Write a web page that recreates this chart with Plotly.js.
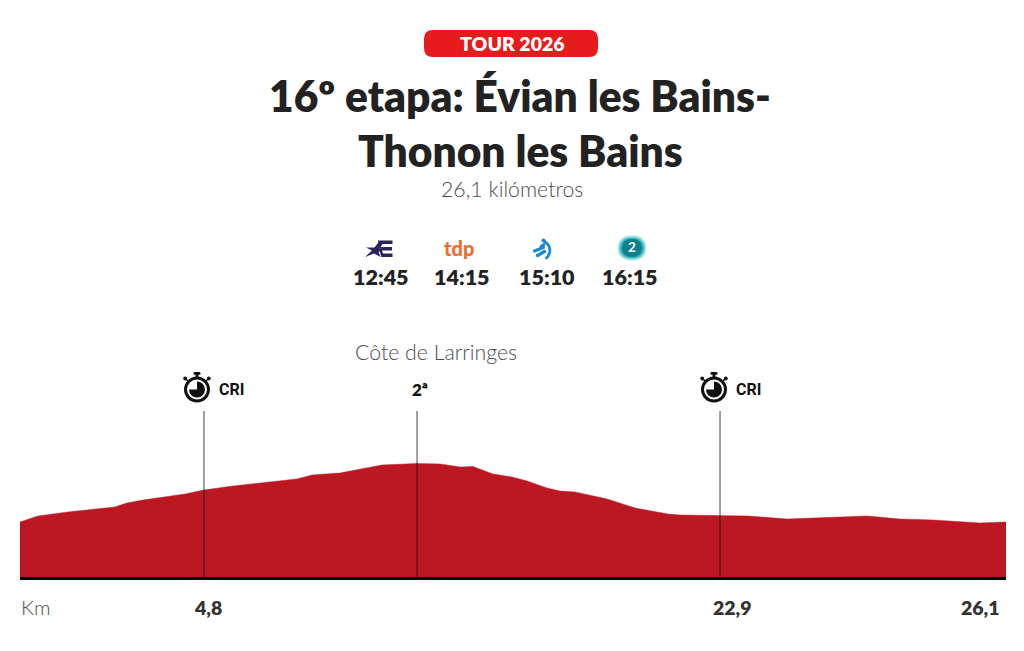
<!DOCTYPE html>
<html>
<head>
<meta charset="utf-8">
<script src="https://cdn.plot.ly/plotly-3.0.1.min.js"></script>
<style>html,body{margin:0;padding:0;background:#fff}</style>
</head>
<body>
<div id="grafico" style="width:1024px;height:651px"></div>
<script>
// perfil de la etapa (altura sin unidad, el original no trae eje)
var km = [0, 0.48, 1.27, 2.51, 2.83, 3.26, 4.37, 4.87, 5.64, 7.33, 7.73, 8.47, 9.58, 10.51, 11.12, 11.65, 11.99, 12.52, 13.02, 13.42, 13.95, 14.29, 14.69, 15.54, 16.28, 17.15, 17.47, 18.50, 19.27, 20.30, 21.18, 22.42, 23.29, 24.17, 25.41, 26.1];
var altura = [55, 61, 65, 70, 74, 77, 83, 87, 91, 98, 102, 104, 112, 113.5, 113, 110, 110.5, 103, 100, 96, 89, 86, 85, 78, 69, 63, 62, 61, 61, 58, 59, 61, 58, 57, 54, 55];

// puntos marcados
var marcasKm = [4.87, 10.51, 18.53];
var marcasTope = 166;

var etiquetasKm = [4.97, 18.87, 25.43];
var etiquetasTexto = ['4,8', '22,9', '26,1'];

var cadenas = ['tdp', '2'];
var horarios = ['12:45', '14:15', '15:10', '16:15'];
var horariosX = [381, 461.5, 546.5, 630];

var W = 1024, H = 651;
var L = 20, R = 1006, T = 337, B = 577;
var fuente = 'Lato';
var oscuro = '#222222';
var gris = '#4d4d4d';

// paper va referido al area del grafico, no a la pagina
function px(x) { return (x - L) / (R - L); }
function py(y) { return (B - y) / (B - T); }

function texto(t, x, y, size, color, weight, familia) {
  return {
    text: t, xref: 'paper', yref: 'paper', x: px(x), y: py(y),
    xanchor: 'center', yanchor: 'middle', showarrow: false,
    font: {family: familia || fuente, size: size, color: color, weight: weight || 400}
  };
}

function svgUri(svg) {
  return 'data:image/svg+xml;charset=utf-8,' + encodeURIComponent(svg);
}

function icono(svg, x, y, w, h) {
  return {
    source: svgUri(svg), xref: 'paper', yref: 'paper',
    x: px(x), y: py(y), sizex: w / (R - L), sizey: h / (B - T),
    xanchor: 'left', yanchor: 'top', sizing: 'stretch', layer: 'above'
  };
}

var cronoSvg = '<svg xmlns="http://www.w3.org/2000/svg" viewBox="0 0 30 32">' +
  '<circle cx="15" cy="18.5" r="11.5" fill="#fff" stroke="#111" stroke-width="3"/>' +
  '<path d="M15 18.5V10.5A8 8 0 1 1 7 18.5Z" fill="#111"/>' +
  '<rect x="13.6" y="3" width="2.8" height="5" fill="#111"/><rect x="11.5" y="1" width="7" height="2.8" rx="1.2" fill="#111"/>' +
  '<circle cx="3.2" cy="7.5" r="1.9" fill="#111"/><circle cx="26.8" cy="7.5" r="1.9" fill="#111"/>' +
  '<path d="M4.5 8.5L7 11M25.5 8.5L23 11" stroke="#111" stroke-width="1.6"/></svg>';

var euroSvg = '<svg xmlns="http://www.w3.org/2000/svg" viewBox="0 0 28 18">' +
  '<path d="M0 17L7 10.5L1 7.5L9.5 7.5L15 0.5L14.5 8L17 10L13.5 12L15.5 17L9 13.5Z" fill="#2b2459"/>' +
  '<path d="M13 0.5H27.5V4H17.5L15.5 7H27V10.5H17L18 13.5H27.5V17H16.5L14.5 11L16 9L14 7.5Z" fill="#2b2459"/></svg>';

var etbSvg = '<svg xmlns="http://www.w3.org/2000/svg" viewBox="0 0 22 22" fill="none" stroke="#1f88cf" stroke-linecap="round">' +
  '<path d="M12.5 3.5C18.5 7 20 14.5 14.5 20" stroke-width="2.8"/><circle cx="11.5" cy="2.5" r="2" fill="#1f88cf" stroke="none"/>' +
  '<path d="M9 8.5L12 6.5" stroke-width="3"/><path d="M2.5 13L11.5 9.5" stroke-width="3.2"/><path d="M5.5 17.5L12.5 13.5" stroke-width="3.2"/></svg>';

var tvSvg = '<svg xmlns="http://www.w3.org/2000/svg" viewBox="0 0 32 28">' +
  '<defs><filter id="b" x="-30%" y="-30%" width="160%" height="160%"><feGaussianBlur stdDeviation="1.8"/></filter></defs>' +
  '<rect x="3" y="3" width="26" height="22" rx="10" fill="#19b3b8" filter="url(#b)"/>' +
  '<rect x="6" y="5" width="20" height="18" rx="8.5" fill="#127f8e"/></svg>';

var anotaciones = [
  texto('TOUR 2026', 512, 43, 19.5, '#ffffff', 800),
  texto('16º etapa: Évian les Bains-', 520, 96, 42.5, oscuro, 800),
  texto('Thonon les Bains', 520.5, 150, 42.5, oscuro, 800),
  texto('26,1 kilómetros', 511.5, 189, 21.3, gris, 300),
  texto(cadenas[0], 459, 248, 20, '#ef6c2b', 900),
  texto(cadenas[1], 632, 247, 13.5, '#ffffff', 700),
  texto('Côte de Larringes', 436, 352, 21.3, gris, 300),
  texto('CRI', 231.5, 389, 16, '#111111', 700, 'Roboto'),
  texto('2ª', 420, 389, 17, '#111111', 800),
  texto('CRI', 748.5, 389, 16, '#111111', 700, 'Roboto'),
  texto('Km', 36, 607, 20.5, gris, 300)
];

horarios.forEach(function (h, i) {
  anotaciones.push(texto(h, horariosX[i], 276.5, 21.5, oscuro, 800));
});

etiquetasKm.forEach(function (k, i) {
  anotaciones.push({
    text: etiquetasTexto[i], xref: 'x', yref: 'paper', x: k, y: py(607),
    xanchor: 'center', yanchor: 'middle', showarrow: false,
    font: {family: fuente, size: 19.5, color: '#333333', weight: 800}
  });
});

// pastilla roja del antetitulo
var r = 9, x0 = px(424), x1 = px(598), y0 = py(30), y1 = py(57), rx = r / (R - L), ry = r / (B - T);
var pastilla = {
  type: 'path', xref: 'paper', yref: 'paper', fillcolor: '#e51b1c', line: {width: 0}, layer: 'below',
  path: 'M' + (x0 + rx) + ',' + y0 + ' L' + (x1 - rx) + ',' + y0 + ' Q' + x1 + ',' + y0 + ' ' + x1 + ',' + (y0 - ry) +
    ' L' + x1 + ',' + (y1 + ry) + ' Q' + x1 + ',' + y1 + ' ' + (x1 - rx) + ',' + y1 +
    ' L' + (x0 + rx) + ',' + y1 + ' Q' + x0 + ',' + y1 + ' ' + x0 + ',' + (y1 + ry) +
    ' L' + x0 + ',' + (y0 - ry) + ' Q' + x0 + ',' + y0 + ' ' + (x0 + rx) + ',' + y0 + ' Z'
};

var lineas = marcasKm.map(function (k) {
  return {
    type: 'line', xref: 'x', yref: 'y', x0: k, x1: k, y0: 0, y1: marcasTope,
    line: {color: 'rgba(20,20,20,0.8)', width: 1}, layer: 'above'
  };
});

var perfil = {
  x: km, y: altura, type: 'scatter', mode: 'lines',
  fill: 'tozeroy', fillcolor: '#bc1823',
  line: {color: '#bc1823', width: 0.5},
  hoverinfo: 'skip'
};

var layout = {
  width: W, height: H,
  margin: {l: L, r: W - R, t: T, b: H - B},
  paper_bgcolor: '#ffffff', plot_bgcolor: '#ffffff',
  showlegend: false,
  xaxis: {range: [0, 26.1], showgrid: false, zeroline: false, showticklabels: false, ticks: '', showline: true, linecolor: '#000000', linewidth: 2.5},
  yaxis: {range: [0, 240], showgrid: false, zeroline: false, showticklabels: false, ticks: '', showline: false},
  annotations: anotaciones,
  shapes: [pastilla].concat(lineas),
  images: [
    icono(cronoSvg, 182, 371, 30, 32),
    icono(cronoSvg, 699, 371, 30, 32),
    icono(euroSvg, 365, 240, 28, 18),
    icono(etbSvg, 532, 238, 22, 22),
    icono(tvSvg, 616, 234, 32, 28)
  ]
};

Plotly.newPlot('grafico', [perfil], layout, {displayModeBar: false, staticPlot: true});
</script>
</body>
</html>
